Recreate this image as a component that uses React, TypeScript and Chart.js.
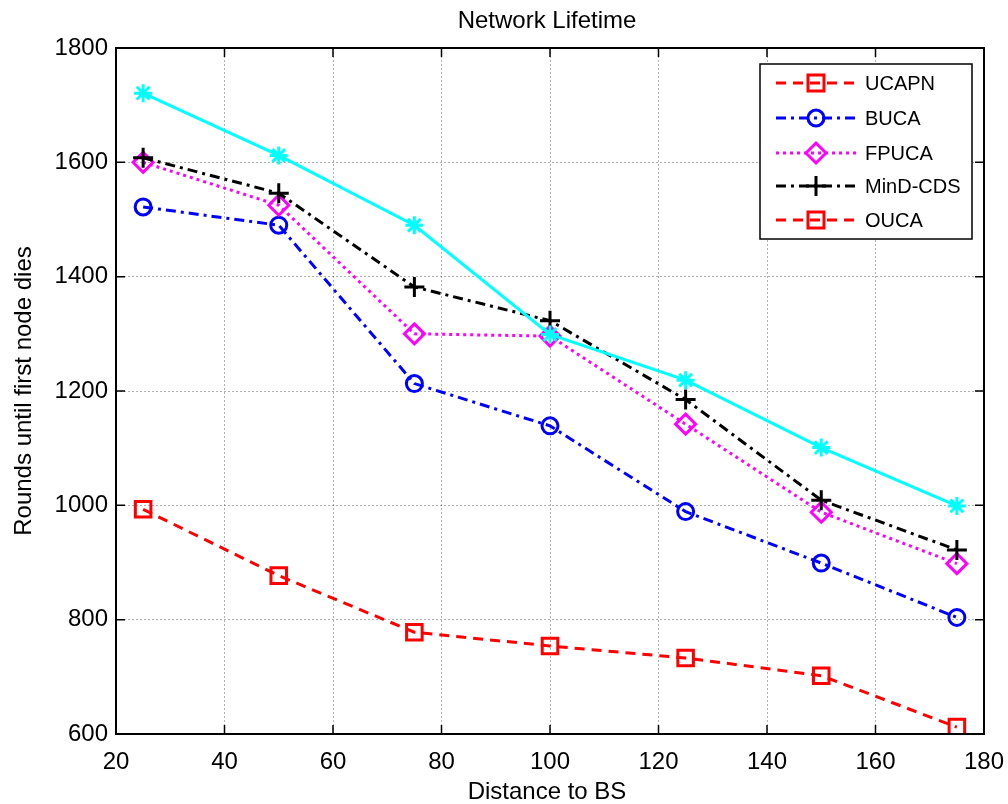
import React, { useEffect, useRef } from "react";
import { Chart, registerables } from "chart.js";

Chart.register(...registerables);

const distances = [25, 50, 75, 100, 125, 150, 175];
const ucapn = [993, 877, 778, 754, 733, 702, 612];
const buca = [1522, 1490, 1213, 1139, 989, 899, 804];
const fpuca = [1600, 1525, 1300, 1296, 1142, 988, 898];
const mindCds = [1608, 1546, 1382, 1323, 1185, 1009, 922];
const ouca = [1721, 1612, 1490, 1299, 1219, 1101, 999];

const xTicks = [20, 40, 60, 80, 100, 120, 140, 160, 180];
const yTicks = [600, 800, 1000, 1200, 1400, 1600, 1800];

const legendNames = ["UCAPN", "BUCA", "FPUCA", "MinD-CDS", "OUCA"];
const titleText = "Network Lifetime";
const xLabel = "Distance to BS";
const yLabel = "Rounds until first node dies";

const FONT = '"Liberation Sans", Arial, Helvetica, sans-serif';

type Style = { color: string; dash: number[]; marker: string; r: number };
const legendStyles: Style[] = [
  { color: "#ff0000", dash: [10, 7], marker: "square", r: 8 },
  { color: "#0000ff", dash: [10, 5, 3, 5], marker: "circle", r: 8 },
  { color: "#ff00ff", dash: [3, 4], marker: "diamond", r: 10 },
  { color: "#000000", dash: [10, 5, 3, 5], marker: "plus", r: 10 },
  { color: "#ff0000", dash: [10, 7], marker: "square", r: 8 },
];

function drawMarker(ctx: CanvasRenderingContext2D, m: string, x: number, y: number, r: number) {
  ctx.beginPath();
  if (m === "square") {
    ctx.rect(x - r, y - r, 2 * r, 2 * r);
  } else if (m === "circle") {
    ctx.arc(x, y, r, 0, Math.PI * 2);
  } else if (m === "diamond") {
    ctx.moveTo(x - r, y);
    ctx.lineTo(x, y - r);
    ctx.lineTo(x + r, y);
    ctx.lineTo(x, y + r);
    ctx.closePath();
  } else if (m === "plus") {
    ctx.moveTo(x - r, y);
    ctx.lineTo(x + r, y);
    ctx.moveTo(x, y - r);
    ctx.lineTo(x, y + r);
  }
  ctx.stroke();
}

const decorPlugin = {
  id: "decor",
  afterDraw(chart: any) {
    const ctx: CanvasRenderingContext2D = chart.ctx;
    const { left, right, top, bottom } = chart.chartArea;
    const xs = chart.scales.x;
    const ys = chart.scales.y;
    ctx.save();
    ctx.strokeStyle = "#000";
    ctx.lineWidth = 2;
    ctx.setLineDash([]);
    ctx.strokeRect(left, top, right - left, bottom - top);
    ctx.lineWidth = 1.5;
    const tl = 9;
    ctx.beginPath();
    xTicks.forEach((v) => {
      const px = xs.getPixelForValue(v);
      ctx.moveTo(px, bottom);
      ctx.lineTo(px, bottom - tl);
      ctx.moveTo(px, top);
      ctx.lineTo(px, top + tl);
    });
    yTicks.forEach((v) => {
      const py = ys.getPixelForValue(v);
      ctx.moveTo(left, py);
      ctx.lineTo(left + tl, py);
      ctx.moveTo(right, py);
      ctx.lineTo(right - tl, py);
    });
    ctx.stroke();
    ctx.fillStyle = "#000";
    ctx.font = `24px ${FONT}`;
    ctx.textAlign = "center";
    ctx.textBaseline = "alphabetic";
    ctx.fillText(titleText, (left + right) / 2 - 3, 28);
    ctx.fillText(xLabel, (left + right) / 2 - 3, 799);
    ctx.save();
    ctx.translate(31, (top + bottom) / 2);
    ctx.rotate(-Math.PI / 2);
    ctx.fillText(yLabel, 0, 0);
    ctx.restore();
    const lx = 760, ly = 64, lw = 212, lh = 175;
    ctx.fillStyle = "#fff";
    ctx.fillRect(lx, ly, lw, lh);
    ctx.strokeStyle = "#000";
    ctx.lineWidth = 1.5;
    ctx.strokeRect(lx, ly, lw, lh);
    const rowY = [83, 118, 153, 186, 220];
    legendNames.forEach((name, i) => {
      const s = legendStyles[i];
      const y = rowY[i];
      ctx.strokeStyle = s.color;
      ctx.lineWidth = 3;
      ctx.setLineDash(s.dash);
      ctx.beginPath();
      ctx.moveTo(776, y);
      ctx.lineTo(856, y);
      ctx.stroke();
      ctx.setLineDash([]);
      drawMarker(ctx, s.marker, 816, y, s.r);
      ctx.fillStyle = "#000";
      ctx.font = `20px ${FONT}`;
      ctx.textAlign = "left";
      ctx.textBaseline = "middle";
      ctx.fillText(name, 865, y + 1);
    });
    ctx.restore();
  },
};

export default function App() {
  const ref = useRef<HTMLCanvasElement>(null);
  useEffect(() => {
    if (!ref.current) return;
    const mk = (arr: number[]) => distances.map((x, i) => ({ x, y: arr[i] }));
    const base = {
      borderWidth: 3,
      pointBorderWidth: 3,
      pointBackgroundColor: "rgba(0,0,0,0)",
      fill: false,
    };
    const chart = new Chart(ref.current, {
      type: "line",
      data: {
        datasets: [
          {
            ...base,
            label: legendNames[0],
            data: mk(ucapn),
            borderColor: "#ff0000",
            borderDash: [10, 7],
            pointStyle: "rect",
            pointRadius: 11,
            pointBorderColor: "#ff0000",
            order: 4,
          },
          {
            ...base,
            label: legendNames[1],
            data: mk(buca),
            borderColor: "#0000ff",
            borderDash: [10, 5, 3, 5],
            pointStyle: "circle",
            pointRadius: 8,
            pointBorderColor: "#0000ff",
            order: 3,
          },
          {
            ...base,
            label: legendNames[2],
            data: mk(fpuca),
            borderColor: "#ff00ff",
            borderDash: [3, 4],
            pointStyle: "rectRot",
            pointRadius: 10,
            pointBorderColor: "#ff00ff",
            order: 2,
          },
          {
            ...base,
            label: legendNames[3],
            data: mk(mindCds),
            borderColor: "#000000",
            borderDash: [10, 5, 3, 5],
            pointStyle: "cross",
            pointRadius: 10,
            pointBorderColor: "#000000",
            order: 1,
          },
          {
            ...base,
            label: legendNames[4],
            data: mk(ouca),
            borderColor: "#00ffff",
            pointStyle: "star",
            pointRadius: 9,
            pointBorderColor: "#00ffff",
            order: 0,
          },
        ],
      },
      options: {
        animation: false,
        responsive: false,
        devicePixelRatio: 1,
        layout: { padding: { left: 0, right: 24, top: 48, bottom: 0 } },
        plugins: {
          legend: { display: false },
          title: { display: false },
          tooltip: { enabled: false },
        },
        scales: {
          x: {
            type: "linear",
            min: 20,
            max: 180,
            afterFit: (s: any) => {
              s.height = 70;
              s.paddingLeft = 0;
              s.paddingRight = 0;
            },
            afterBuildTicks: (s: any) => {
              s.ticks = xTicks.map((v) => ({ value: v }));
            },
            grid: { color: "rgba(0,0,0,0.3)", lineWidth: 1, drawTicks: false },
            border: { display: false, dash: [2, 2] },
            ticks: {
              color: "#000",
              font: { size: 24, family: FONT },
              padding: 14,
              maxRotation: 0,
              callback: (v: any) => String(v),
            },
          },
          y: {
            type: "linear",
            min: 600,
            max: 1800,
            afterFit: (s: any) => {
              s.width = 116;
              s.paddingTop = 0;
              s.paddingBottom = 0;
            },
            afterBuildTicks: (s: any) => {
              s.ticks = yTicks.map((v) => ({ value: v }));
            },
            grid: { color: "rgba(0,0,0,0.3)", lineWidth: 1, drawTicks: false },
            border: { display: false, dash: [2, 2] },
            ticks: {
              color: "#000",
              font: { size: 24, family: FONT },
              padding: 8,
              callback: (v: any) => String(v),
            },
          },
        },
      },
      plugins: [decorPlugin],
    } as any);
    return () => chart.destroy();
  }, []);
  return (
    <div style={{ position: "absolute", left: 0, top: 0, width: 1008, height: 804, background: "#fff" }}>
      <canvas ref={ref} width={1008} height={804} style={{ display: "block" }} />
    </div>
  );
}
